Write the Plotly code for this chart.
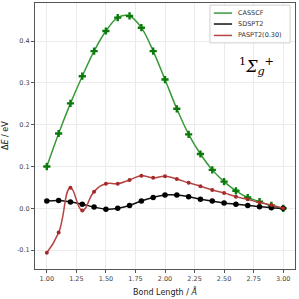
import plotly.graph_objects as go

bond_length = [1.0, 1.1, 1.2, 1.3, 1.4, 1.5, 1.6, 1.7, 1.8, 1.9, 2.0,
               2.1, 2.2, 2.3, 2.4, 2.5, 2.6, 2.7, 2.8, 2.9, 3.0]
casscf = [0.100, 0.179, 0.251, 0.316, 0.376, 0.424, 0.456, 0.460, 0.432, 0.376, 0.308,
          0.238, 0.177, 0.130, 0.092, 0.064, 0.042, 0.026, 0.016, 0.007, 0.000]
sdspt2 = [0.0175, 0.019, 0.015, 0.010, 0.003, -0.002, 0.000, 0.007, 0.0175, 0.026, 0.032,
          0.032, 0.028, 0.022, 0.0175, 0.013, 0.010, 0.007, 0.004, 0.0015, 0.000]
paspt2 = [-0.106, -0.058, 0.049, -0.005, 0.040, 0.059, 0.059, 0.068, 0.078, 0.073, 0.077,
          0.070, 0.061, 0.053, 0.044, 0.037, 0.028, 0.0215, 0.014, 0.008, 0.000]

x_ticks = [1.00, 1.25, 1.50, 1.75, 2.00, 2.25, 2.50, 2.75, 3.00]
y_ticks = [-0.1, 0.0, 0.1, 0.2, 0.3, 0.4]

series_names = ["CASSCF", "SDSPT2", "PASPT2(0.30)"]
line_colors = ["#3a9a3a", "#111111", "#b54545"]

fig = go.Figure()
fig.add_trace(go.Scatter(
    x=bond_length, y=casscf, name=series_names[0], mode="lines+markers",
    line=dict(color=line_colors[0], width=1.5, shape="spline", smoothing=1.0),
    marker=dict(symbol="cross", size=6, color="#0a7a0a"),
))
fig.add_trace(go.Scatter(
    x=bond_length, y=sdspt2, name=series_names[1], mode="lines+markers",
    line=dict(color=line_colors[1], width=1.5, shape="spline", smoothing=1.0),
    marker=dict(symbol="circle", size=5.5, color="#000000"),
))
fig.add_trace(go.Scatter(
    x=bond_length, y=paspt2, name=series_names[2], mode="lines+markers",
    line=dict(color=line_colors[2], width=1.5, shape="spline", smoothing=1.3),
    marker=dict(symbol="circle", size=4, color="#a52a2a"),
))

# Manual legend (box, line samples, labels) in paper coordinates
fig.add_shape(type="rect", xref="paper", yref="paper",
              x0=0.673, x1=0.981, y0=0.850, y1=0.992,
              line=dict(color="#d0d0d0", width=1), fillcolor="rgba(255,255,255,0.85)")
legend_y = [0.962, 0.921, 0.878]
for name, col, ly in zip(series_names, line_colors, legend_y):
    fig.add_shape(type="line", xref="paper", yref="paper",
                  x0=0.688, x1=0.758, y0=ly, y1=ly,
                  line=dict(color=col, width=1.5))
    fig.add_annotation(x=0.773, y=ly, xref="paper", yref="paper",
                       text=name, showarrow=False, xanchor="left", yanchor="middle",
                       font=dict(family="DejaVu Sans", size=6.5, color="#333333"))

fig.add_annotation(
    x=2.77, y=0.338, xref="x", yref="y", showarrow=False,
    text="<sup>1</sup><i>Σ<sub>g</sub><sup>+</sup></i>",
    font=dict(family="DejaVu Serif", size=16, color="#000000"),
)

# axis titles
fig.add_annotation(x=0.5, y=-0.0, xref="paper", yref="paper", yshift=-22,
                   text="Bond Length / <i>Å</i>", showarrow=False,
                   xanchor="center", yanchor="middle",
                   font=dict(family="DejaVu Sans", size=8, color="#222222"))
fig.add_annotation(x=0.0, y=0.5, xref="paper", yref="paper", xshift=-30,
                   text="Δ<i>E</i> / eV", showarrow=False, textangle=-90,
                   xanchor="center", yanchor="middle",
                   font=dict(family="DejaVu Sans", size=8, color="#222222"))

axis_common = dict(
    showgrid=True, gridcolor="#ebebeb", gridwidth=1,
    showline=True, linecolor="#555555", linewidth=1, mirror=True,
    ticks="outside", ticklen=3, tickcolor="#555555",
    tickfont=dict(family="DejaVu Sans", size=6.5, color="#444444"),
    zeroline=False, automargin=False,
)

fig.update_xaxes(
    range=[0.9, 3.1], tickvals=x_ticks, ticktext=[f"{v:.2f}" for v in x_ticks],
    **axis_common,
)
fig.update_yaxes(
    range=[-0.145, 0.491], tickvals=y_ticks, ticktext=[f"{v:.1f}" for v in y_ticks],
    **axis_common,
)

fig.update_layout(
    width=299, height=299,
    margin=dict(l=35, r=4, t=3, b=30),
    plot_bgcolor="white", paper_bgcolor="white",
    showlegend=False,
)

fig.write_html("out.html", config={"displayModeBar": False},
               post_script="document.body.style.margin='0px';document.body.style.overflow='hidden';")
